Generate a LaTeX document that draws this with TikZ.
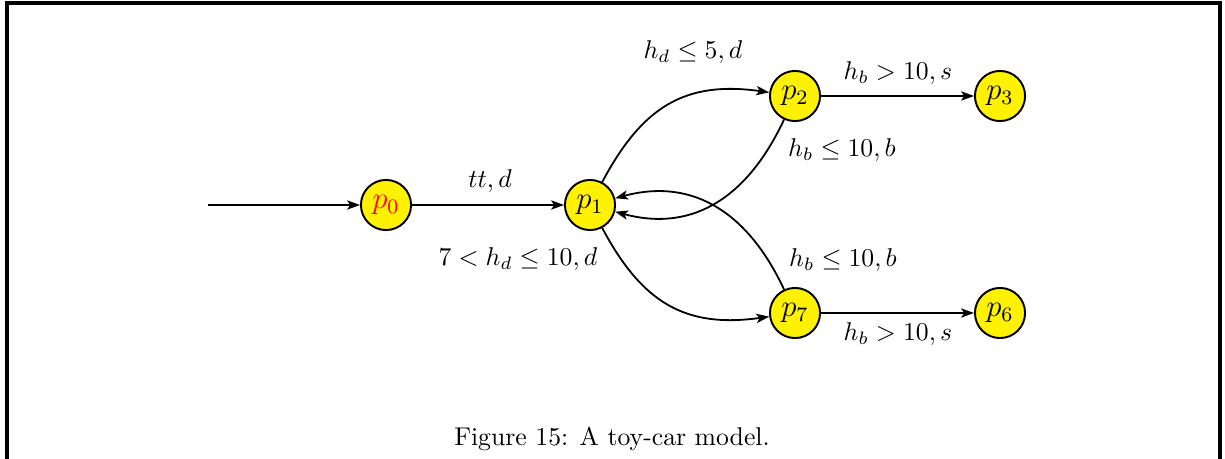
\documentclass[tikz,border=0pt]{standalone}
\usetikzlibrary{arrows.meta}
\begin{document}
\begin{tikzpicture}[x=0.389pt,y=0.389pt,
  state/.style={circle,draw,line width=0.75pt,fill=yellow,minimum size=19.5pt,inner sep=0pt,font=\large},
  edge/.style={-{Stealth[length=5pt,width=3.6pt,inset=1.2pt]},line width=0.7pt},
  lbl/.style={inner sep=0pt}]
\useasboundingbox (0,0) rectangle (1225,458);
\draw[line width=1.3pt] (7,-10) -- (7,455) -- (1220,455) -- (1220,-10);
\node[state] (p0) at (386,253) {\textcolor{red}{$p_0$}};
\node[state] (p1) at (590,253) {$p_1$};
\node[state] (p2) at (795,362) {$p_2$};
\node[state] (p3) at (1000,362) {$p_3$};
\node[state] (p7) at (795,145) {$p_7$};
\node[state] (p6) at (1000,145) {$p_6$};
\coordinate (init) at (208,253);
\draw[edge] (init) -- (p0);
\draw[edge] (p0) -- (p1);
\draw[edge] (p1) to[out=62,in=172,looseness=1.15] (p2);
\draw[edge] (p2) to[out=245,in=-15,looseness=1.1] (p1);
\draw[edge] (p7) to[out=115,in=15,looseness=1.1] (p1);
\draw[edge] (p1) to[out=-62,in=188,looseness=1.15] (p7);
\draw[edge] (p2) -- (p3);
\draw[edge] (p7) -- (p6);
\node[lbl] (l1) at (490,277) {$tt,d$};
\node[lbl] (l2) at (693,406) {$h_d\leq 5,d$};
\node[lbl] (l3) at (842,308) {$h_b\leq 10,b$};
\node[lbl] (l4) at (518,199) {$7<h_d\leq 10,d$};
\node[lbl] (l5) at (843,198) {$h_b\leq 10,b$};
\node[lbl] (l6) at (898,385) {$h_b>10,s$};
\node[lbl] (l7) at (898,124) {$h_b>10,s$};
\node[lbl] (cap) at (612,19) {Figure 15: A toy-car model.};
\end{tikzpicture}
\end{document}
